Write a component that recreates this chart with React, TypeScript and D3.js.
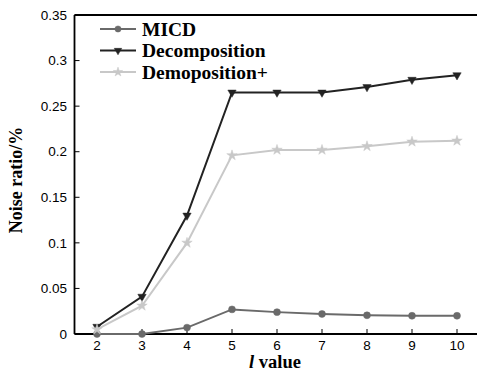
import React from "react";
import * as d3 from "d3";

const xValues = [2, 3, 4, 5, 6, 7, 8, 9, 10];
const micd = [0.0, 0.0, 0.007, 0.027, 0.024, 0.022, 0.0205, 0.02, 0.02];
const decomposition = [0.008, 0.041, 0.13, 0.265, 0.265, 0.265, 0.271, 0.279, 0.284];
const demoposition = [0.005, 0.031, 0.1, 0.196, 0.202, 0.202, 0.206, 0.211, 0.212];
const yTicks = [0, 0.05, 0.1, 0.15, 0.2, 0.25, 0.3, 0.35];
const yTickLabels = ["0", "0.05", "0.1", "0.15", "0.2", "0.25", "0.3", "0.35"];
const seriesNames = ["MICD", "Decomposition", "Demoposition+"];

const W = 477;
const H = 371;
const left = 74.5;
const top = 15;
const bottom = 334;

const x = d3.scaleLinear().domain([1.5, 10.5]).range([left, 479.5]);
const y = d3.scaleLinear().domain([0, 0.35]).range([bottom, top]);

const colors = ["#6a6a6a", "#222222", "#c8c8c8"];
const seriesData = [micd, decomposition, demoposition];
const markerTypes = [d3.symbolCircle, d3.symbolTriangle, d3.symbolStar];
const markerSizes = [38, 30, 34];

function Marker({ idx, cx, cy, color, scale = 1 }: { idx: number; cx: number; cy: number; color: string; scale?: number }) {
  const path = d3.symbol().type(markerTypes[idx]).size(markerSizes[idx] * scale)() as string;
  const rot = idx === 1 ? 180 : 0;
  return <path d={path} transform={`translate(${cx},${cy}) rotate(${rot})`} fill={color} stroke={color} strokeWidth={0.5} />;
}

export default function App() {
  const line = d3
    .line<number>()
    .x((_, i) => x(xValues[i]))
    .y((d) => y(d));
  const sans = "'Liberation Sans', Arial, sans-serif";
  const serif = "'Liberation Serif', 'Times New Roman', Times, serif";
  return (
    <svg width={W} height={H} style={{ position: "absolute", left: 0, top: 0, background: "#fff" }}>
      <line x1={left} x2={W} y1={top} y2={top} stroke="#000" strokeWidth={2} />
      <line x1={left} x2={W} y1={bottom} y2={bottom} stroke="#000" strokeWidth={1.8} />
      <line x1={left} x2={left} y1={top} y2={bottom} stroke="#000" strokeWidth={1.8} />
      {yTicks.map((t, i) => (
        <g key={"y" + i}>
          <line x1={left} x2={left + 5} y1={y(t)} y2={y(t)} stroke="#000" strokeWidth={1} />
          <text x={67} y={y(t)} dy="0.35em" textAnchor="end" style={{ fontFamily: sans, fontSize: 13.5 }} fill="#000">
            {yTickLabels[i]}
          </text>
        </g>
      ))}
      {xValues.map((v) => (
        <g key={"x" + v}>
          <line x1={x(v)} x2={x(v)} y1={bottom} y2={bottom - 5} stroke="#000" strokeWidth={1} />
          <text x={x(v)} y={350} textAnchor="middle" style={{ fontFamily: sans, fontSize: 13.5 }} fill="#000">
            {v}
          </text>
        </g>
      ))}
      {seriesData.map((s, si) => (
        <g key={"s" + si}>
          <path d={line(s) as string} fill="none" stroke={colors[si]} strokeWidth={2} />
          {s.map((v, i) => (
            <Marker key={i} idx={si} cx={x(xValues[i])} cy={y(v)} color={colors[si]} />
          ))}
        </g>
      ))}
      {seriesNames.map((n, i) => {
        const ly = 29 + i * 21.5;
        return (
          <g key={"l" + i}>
            <line x1={100} x2={136} y1={ly} y2={ly} stroke={colors[i]} strokeWidth={2} />
            <Marker idx={i} cx={118} cy={ly} color={colors[i]} scale={0.8} />
            <text x={142} y={ly} dy="0.35em" style={{ fontFamily: serif, fontWeight: 700, fontSize: 19.5 }} fill="#000">
              {n}
            </text>
          </g>
        );
      })}
      <text
        transform={`translate(22,180) rotate(-90)`}
        textAnchor="middle"
        style={{ fontFamily: serif, fontWeight: 700, fontSize: 18 }}
        fill="#000"
      >
        Noise ratio/%
      </text>
      <text x={275} y={368} textAnchor="middle" style={{ fontFamily: serif, fontWeight: 700, fontSize: 18.5 }} fill="#000">
        <tspan fontStyle="italic">l</tspan> value
      </text>
    </svg>
  );
}
